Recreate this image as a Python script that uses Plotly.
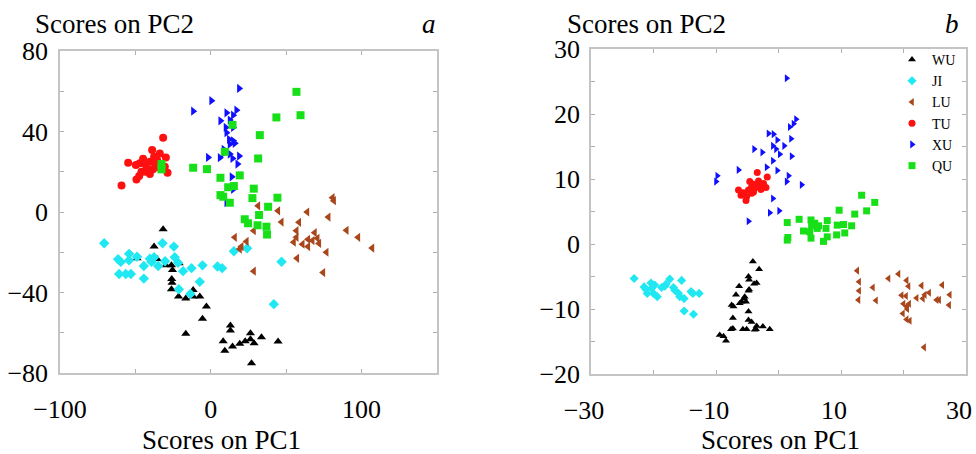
import plotly.graph_objects as go

# ---------------- data: panel a ----------------
a_wu_x = [-31.6,-37.6,-35.6,-48.9,-29.8,-26.1,-25.4,-21.0,-25.9,-25.7,-26.1,-21.4,-16.6,-11.7,-11.7,-7.3,-2.9,-5.5,-16.6,13.0,13.0,8.2,9.3,14.4,19.2,22.8,26.3,26.3,28.7,27.0,33.6,44.6]
a_wu_y = [-8.6,-17.2,-23.3,-23.0,-26.5,-26.5,-28.8,-25.5,-33.3,-35.1,-38.4,-42.0,-43.0,-38.7,-42.0,-42.0,-47.0,-53.1,-60.5,-56.4,-58.9,-64.2,-69.0,-66.8,-65.5,-64.2,-60.2,-63.2,-65.2,-75.1,-62.2,-64.4]
a_ji_x = [-70.7,-61.5,-59.7,-54.2,-54.2,-48.9,-60.8,-56.4,-53.0,-44.4,-44.4,-40.4,-39.3,-37.6,-34.9,-32.0,-30.3,-24.5,-23.9,-21.7,-18.4,-21.2,-12.8,-13.5,-7.3,-5.5,4.4,7.5,15.3,24.1,46.9,41.8]
a_ji_y = [-15.5,-23.5,-24.8,-20.8,-24.0,-22.2,-30.8,-30.8,-30.8,-26.8,-33.1,-23.2,-24.8,-22.5,-26.8,-15.5,-24.5,-17.2,-22.5,-25.2,-29.4,-38.4,-27.9,-40.7,-34.7,-26.5,-27.1,-27.9,-19.5,-18.0,-24.7,-45.8]
a_lu_x = [80.7,81.6,31.4,44.6,63.9,78.0,46.9,58.5,28.5,56.8,90.0,97.7,15.9,23.7,20.3,19.2,55.0,56.8,60.8,64.5,64.5,67.4,68.9,70.7,71.8,76.7,107.0,57.2,74.5,28.5]
a_lu_y = [7.1,5.6,3.1,0.6,0.0,-2.5,-5.0,-5.1,-9.3,-9.3,-9.1,-12.6,-12.6,-14.6,-17.2,-18.4,-15.0,-12.6,-16.0,-13.6,-17.2,-14.2,-10.3,-13.1,-15.6,-20.0,-17.9,-23.0,-30.1,-29.4]
a_tu_x = [-31.6,-38.9,-33.8,-29.8,-37.6,-44.9,-54.8,-49.7,-43.1,-40.4,-36.5,-33.8,-42.2,-38.3,-46.0,-40.4,-28.7,-47.5,-49.3,-59.2,-30.5,-43.8,-35.6,-47.1]
a_tu_y = [36.9,30.8,29.1,27.1,27.5,26.5,24.5,23.3,23.3,25.0,23.8,22.0,21.2,21.2,20.0,18.9,19.5,17.9,16.2,13.2,22.5,20.0,25.8,24.2]
a_xu_x = [18.8,0.4,-11.7,10.4,17.0,14.8,6.4,12.6,9.9,14.8,10.4,12.1,14.8,12.6,15.9,8.6,12.6,-1.8,6.0,14.4,18.8,17.7,13.9,14.8,10.4,8.2]
a_xu_y = [61.4,55.3,50.1,49.3,50.6,48.1,45.3,45.7,42.0,42.0,39.4,36.1,35.4,33.7,34.1,31.1,28.8,27.1,27.0,26.6,27.8,23.8,17.5,11.3,4.6,29.1]
a_qu_x = [56.8,59.5,43.5,32.5,14.4,9.3,31.4,-11.7,-2.5,6.4,19.2,11.5,15.3,28.5,6.4,8.2,12.6,27.6,44.2,38.0,32.0,22.5,24.7,31.0,36.9,37.3,-32.7,-32.7]
a_qu_y = [59.7,48.1,47.0,38.2,43.3,29.9,26.6,22.0,21.3,17.0,18.2,12.3,12.9,11.6,8.4,7.6,4.6,6.9,7.1,2.6,-1.5,-3.6,-5.6,-6.6,-7.3,-11.2,23.8,21.2]

# ---------------- data: panel b ----------------
b_wu_x = [-4.1,-3.1,-4.8,-4.7,-3.9,-6.3,-4.7,-6.8,-5.4,-5.9,-5.2,-6.2,-7.5,-7.2,-4.8,-7.3,-4.8,-4.3,-7.3,-7.6,-5.7,-5.1,-3.6,-9.4,-8.8,-8.4,-3.5,-3.5,-4.8,-5.5,-2.5,-1.4,-3.8]
b_wu_y = [-2.7,-3.9,-5.0,-5.5,-6.1,-6.5,-7.0,-7.8,-8.1,-8.9,-8.9,-9.1,-9.4,-9.6,-10.4,-11.4,-11.7,-12.0,-13.0,-13.1,-13.1,-13.1,-13.1,-14.0,-14.2,-14.9,-12.6,-6.0,-7.2,-8.4,-12.7,-13.1,-13.2]
b_ji_x = [-23.1,-21.5,-21.2,-21.0,-20.4,-20.3,-20.0,-19.8,-19.4,-18.7,-18.2,-18.0,-17.4,-16.8,-16.6,-16.0,-15.8,-15.5,-15.1,-14.0,-13.7,-12.7,-15.1,-13.6]
b_ji_y = [-5.3,-6.6,-7.0,-7.6,-6.0,-6.8,-7.6,-6.3,-8.1,-6.7,-6.5,-6.2,-5.4,-6.7,-7.1,-7.6,-8.1,-5.6,-8.4,-7.3,-7.6,-7.6,-10.3,-10.8]
b_lu_x = [12.6,12.9,12.9,12.8,15.1,15.6,17.6,19.2,20.5,20.8,19.7,20.4,20.0,20.5,20.9,20.6,19.9,20.5,21.0,22.1,22.9,23.1,23.4,24.1,25.3,25.7,26.2,27.4,27.3,23.3]
b_lu_y = [-4.1,-5.8,-7.2,-8.6,-6.7,-8.7,-5.3,-4.6,-5.6,-6.5,-7.9,-8.0,-9.2,-9.6,-9.2,-10.0,-10.7,-11.6,-11.8,-8.3,-6.4,-8.4,-7.8,-7.5,-8.6,-8.6,-6.3,-7.8,-9.4,-15.9]
b_tu_x = [-3.4,-4.6,-4.0,-3.2,-2.4,-1.8,-2.0,-2.8,-3.8,-4.8,-5.6,-6.0,-5.1,-5.2,-4.3,-2.7,-6.4,-5.9,-4.3,-4.0,-3.5]
b_tu_y = [11.0,9.6,9.2,9.7,9.3,10.3,8.7,8.4,8.6,8.3,7.9,7.5,7.3,6.7,7.8,9.1,8.3,7.8,8.8,8.0,8.8]
b_xu_x = [1.3,2.8,2.4,1.8,-1.6,-0.8,-0.2,2.0,-0.9,0.9,-0.4,-3.9,-2.6,0.2,2.1,-0.9,-1.9,-0.2,1.6,1.3,3.7,-0.9,0.1,-1.4,-4.8,-6.4,-9.8,-10.0]
b_xu_y = [25.5,19.2,18.5,18.0,17.0,16.9,16.0,16.2,15.1,15.1,14.6,14.6,14.1,13.8,13.5,12.8,11.8,11.3,10.5,9.6,9.1,7.0,5.1,4.8,3.5,11.4,10.5,9.6]
b_qu_x = [13.3,15.4,14.1,12.2,9.7,11.7,10.4,9.4,10.6,9.3,7.8,7.6,6.4,5.8,5.2,5.3,6.2,5.0,4.0,3.3,1.4,1.5,7.8,1.4,5.2,7.2]
b_qu_y = [7.5,6.4,5.1,4.6,5.2,2.8,3.0,2.9,1.7,1.4,3.6,2.4,2.8,3.2,3.7,2.8,2.4,1.9,2.0,3.8,3.3,1.0,1.1,0.6,0.9,0.4]

classes = ["WU", "JI", "LU", "TU", "XU", "QU"]
symbols = ["triangle-up", "diamond", "triangle-left", "circle", "triangle-right", "square"]
colors = ["#000000", "#1fe8f2", "#a8461c", "#ff1010", "#1010ff", "#18e018"]

panel_a = [(a_wu_x, a_wu_y), (a_ji_x, a_ji_y), (a_lu_x, a_lu_y),
           (a_tu_x, a_tu_y), (a_xu_x, a_xu_y), (a_qu_x, a_qu_y)]
panel_b = [(b_wu_x, b_wu_y), (b_ji_x, b_ji_y), (b_lu_x, b_lu_y),
           (b_tu_x, b_tu_y), (b_xu_x, b_xu_y), (b_qu_x, b_qu_y)]

SERIF = "Liberation Serif"
# the page body margin is removed by the post script, so the figure fills the window
OFF = 0
W, H = 976, 454

fig = go.Figure()
for i, name in enumerate(classes):
    xs, ys = panel_a[i]
    fig.add_trace(go.Scatter(
        x=xs, y=ys, mode="markers", name=name, legendgroup=name, showlegend=False,
        marker=dict(symbol=symbols[i], color=colors[i], size=8, line=dict(width=0)),
        xaxis="x", yaxis="y"))
for i, name in enumerate(classes):
    xs, ys = panel_b[i]
    fig.add_trace(go.Scatter(
        x=xs, y=ys, mode="markers", name=name, legendgroup=name, showlegend=True,
        marker=dict(symbol=symbols[i], color=colors[i], size=7, line=dict(width=0)),
        xaxis="x2", yaxis="y2"))

frame = dict(showline=True, linecolor="#c4c4c4", linewidth=1.5, mirror="ticks",
             ticks="inside", ticklen=4, tickcolor="#b0b0b0", tickwidth=1,
             showgrid=False, zeroline=False, automargin=False,
             ticklabeloverflow="allow",
             tickfont=dict(family=SERIF, size=26, color="black"))

def px_x(p):
    return (p - OFF) / W

def px_y(p):
    return 1 - (p - OFF) / H

fig.update_layout(
    width=W, height=H, autosize=False,
    margin=dict(l=0, r=0, t=0, b=0, pad=0, autoexpand=False),
    paper_bgcolor="white", plot_bgcolor="white",
    showlegend=True,
    xaxis=dict(domain=[px_x(60), px_x(437)], range=[-100, 150], tick0=-100, dtick=100,
               minor=dict(dtick=50, ticks="inside", ticklen=4, tickcolor="#b0b0b0"),
               anchor="y", ticklabelstandoff=12, **frame),
    yaxis=dict(domain=[px_y(373), px_y(51)], range=[-80, 80], tick0=-80, dtick=40,
               minor=dict(dtick=20, ticks="inside", ticklen=4, tickcolor="#b0b0b0"),
               anchor="x", ticklabelstandoff=5, **frame),
    xaxis2=dict(domain=[px_x(591), px_x(966)], range=[-30, 30], tick0=-30, dtick=20,
                minor=dict(dtick=10, ticks="inside", ticklen=4, tickcolor="#b0b0b0"),
                anchor="y2", ticklabelstandoff=12, ticklabelshift=-7, **frame),
    yaxis2=dict(domain=[px_y(374), px_y(49)], range=[-20, 30], tick0=-20, dtick=10,
                minor=dict(dtick=5, ticks="inside", ticklen=4, tickcolor="#b0b0b0"),
                anchor="x2", ticklabelstandoff=4, **frame),
    legend=dict(x=px_x(892), y=px_y(44), xanchor="left", yanchor="top",
                font=dict(family=SERIF, size=14, color="black"),
                bgcolor="rgba(0,0,0,0)", borderwidth=0, tracegroupgap=0,
                itemsizing="trace"),
)

title_font = dict(family=SERIF, size=27, color="black")
ann = [
    dict(text="Scores on PC2", x=px_x(33), y=px_y(24), xanchor="left", yanchor="middle"),
    dict(text="<i>a</i>", x=px_x(438), y=px_y(24), xanchor="right", yanchor="middle"),
    dict(text="Scores on PC1", x=px_x(221), y=px_y(440), xanchor="center", yanchor="middle"),
    dict(text="Scores on PC2", x=px_x(565), y=px_y(24), xanchor="left", yanchor="middle"),
    dict(text="<i>b</i>", x=px_x(961), y=px_y(24), xanchor="right", yanchor="middle"),
    dict(text="Scores on PC1", x=px_x(780), y=px_y(440), xanchor="center", yanchor="middle"),
]
for a in ann:
    fig.add_annotation(xref="paper", yref="paper", showarrow=False, font=title_font, **a)

fig.write_html("out.html",
               config={"displayModeBar": False},
               post_script="document.body.style.margin='0';document.body.style.overflow='hidden';")
